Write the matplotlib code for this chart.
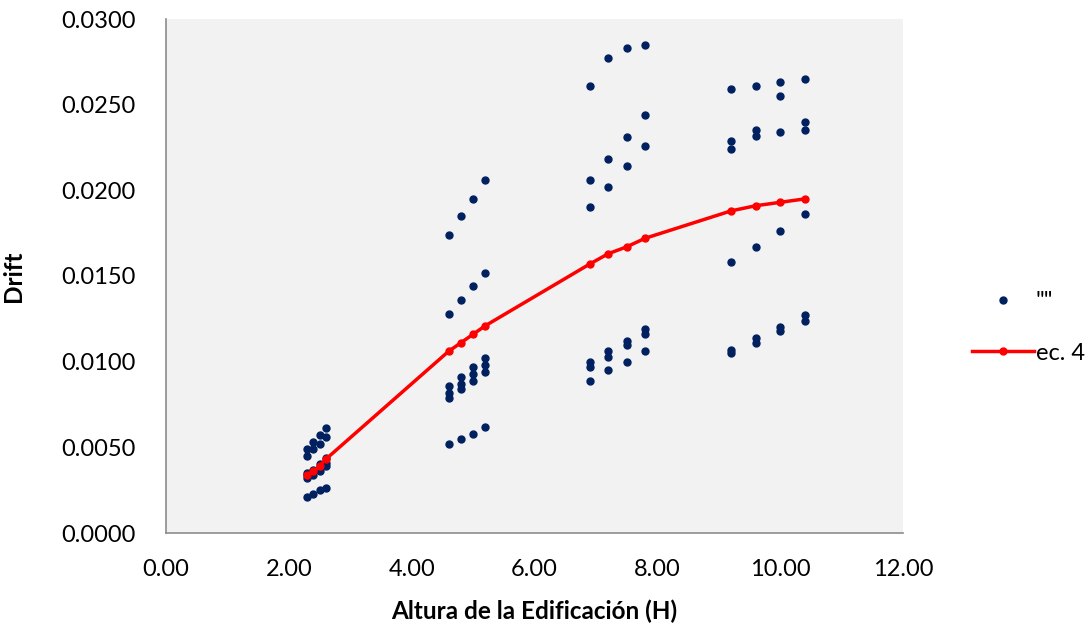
import numpy as np
import matplotlib.pyplot as plt

plt.rcParams['font.family'] = ['Lato', 'DejaVu Sans']

# building heights (x) and drift values, 6 points per height
heights = [2.3, 2.4, 2.5, 2.6, 4.6, 4.8, 5.0, 5.2,
           6.9, 7.2, 7.5, 7.8, 9.2, 9.6, 10.0, 10.4]

drift_s1 = [0.0049, 0.0053, 0.0057, 0.0061, 0.0174, 0.0185, 0.0195, 0.0206,
            0.0261, 0.0277, 0.0283, 0.0285, 0.0259, 0.0261, 0.0263, 0.0265]
drift_s2 = [0.0045, 0.0049, 0.0052, 0.0056, 0.0128, 0.0136, 0.0144, 0.0152,
            0.0206, 0.0218, 0.0231, 0.0244, 0.0229, 0.0235, 0.0255, 0.0240]
drift_s3 = [0.0035, 0.0037, 0.0040, 0.0044, 0.0086, 0.0091, 0.0097, 0.0102,
            0.0190, 0.0202, 0.0214, 0.0226, 0.0224, 0.0232, 0.0234, 0.0235]
drift_s4 = [0.0034, 0.0036, 0.0038, 0.0041, 0.0082, 0.0087, 0.0093, 0.0098,
            0.0100, 0.0106, 0.0112, 0.0119, 0.0158, 0.0167, 0.0176, 0.0186]
drift_s5 = [0.0032, 0.0034, 0.0036, 0.0039, 0.0079, 0.0084, 0.0089, 0.0094,
            0.0097, 0.0103, 0.0110, 0.0116, 0.0107, 0.0114, 0.0120, 0.0127]
drift_s6 = [0.0021, 0.0023, 0.0025, 0.0026, 0.0052, 0.0055, 0.0058, 0.0062,
            0.0089, 0.0095, 0.0100, 0.0106, 0.0105, 0.0111, 0.0118, 0.0124]

# ec. 4 curve
ec4 = [0.0034, 0.0036, 0.0039, 0.0043, 0.0106, 0.0111, 0.0116, 0.0121,
       0.0157, 0.0163, 0.0167, 0.0172, 0.0188, 0.0191, 0.0193, 0.0195]

xticks = [0, 2, 4, 6, 8, 10, 12]
yticks = [0, 0.005, 0.010, 0.015, 0.020, 0.025, 0.030]

fig = plt.figure(figsize=(10.87, 6.24), dpi=100)
ax = fig.add_axes([166/1087, 1 - 533/624, (903-166)/1087, (533-19)/624])
ax.set_facecolor('#F2F2F2')

navy = '#002060'
allx, ally = [], []
for s in [drift_s1, drift_s2, drift_s3, drift_s4, drift_s5, drift_s6]:
    allx += heights
    ally += s
ax.plot(allx, ally, 'o', color=navy, markersize=5, label='""', zorder=2)
ax.plot(heights, ec4, '-o', color='#FF0000', lw=2.5, markersize=5,
        label='ec. 4', zorder=3)

ax.set_xlim(0, 12)
ax.set_ylim(0, 0.03)
ax.set_xticks(xticks)
ax.set_yticks(yticks)
ax.set_xticklabels(['%.2f' % v for v in xticks])
ax.set_yticklabels(['%.4f' % v for v in yticks])
ax.tick_params(length=0, labelsize=17, colors='black')
ax.tick_params(axis='x', pad=19)
ax.tick_params(axis='y', pad=22)

for sp in ['top', 'right']:
    ax.spines[sp].set_visible(False)
for sp in ['left', 'bottom']:
    ax.spines[sp].set_color('#8C8C8C')
    ax.spines[sp].set_linewidth(1.2)

ax.set_xlabel('Altura de la Edificación (H)', fontsize=17.5, fontweight='bold', labelpad=14)
ax.set_ylabel('Drift', fontsize=17.5, fontweight='bold', labelpad=26)

leg = ax.legend(loc='center left', bbox_to_anchor=(1.065, 0.40), frameon=False,
                fontsize=17, handlelength=2.6, labelspacing=1.3, handletextpad=0.1)

fig.savefig('out.png', dpi=100)
